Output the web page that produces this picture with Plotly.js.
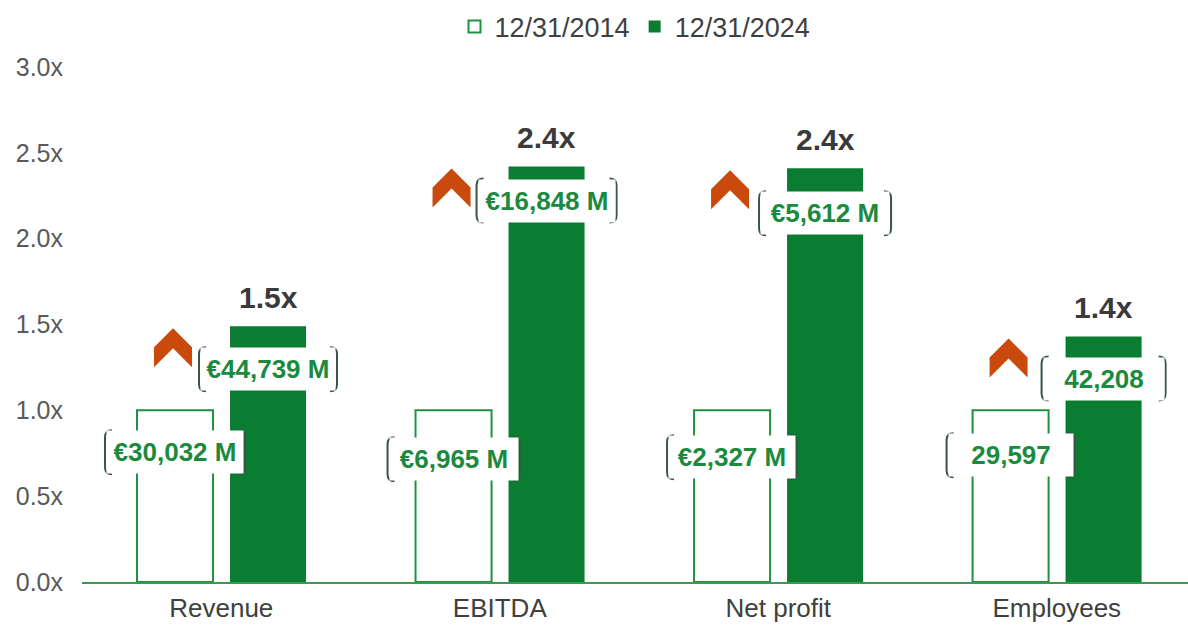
<!DOCTYPE html>
<html>
<head>
<meta charset="utf-8">
<script src="https://cdn.plot.ly/plotly-3.0.1.min.js"></script>
<style>html,body{margin:0;padding:0;background:#fff;}#chart{width:1188px;height:628px;}</style>
</head>
<body>
<div id="chart"></div>
<script>
// ---- data ----
const categories = ['Revenue', 'EBITDA', 'Net profit', 'Employees'];
const base2014 = [1.0, 1.0, 1.0, 1.0];
const growth2024 = [1.49, 2.42, 2.41, 1.43];
const multiplierLabels = ['1.5x', '2.4x', '2.4x', '1.4x'];
const valueLabels2014 = ['€30,032 M', '€6,965 M', '€2,327 M', '29,597'];
const valueLabels2024 = ['€44,739 M', '€16,848 M', '€5,612 M', '42,208'];
const seriesNames = ['12/31/2014', '12/31/2024'];
const yTickVals = [0, 0.5, 1.0, 1.5, 2.0, 2.5, 3.0];
const yTickText = ['0.0x', '0.5x', '1.0x', '1.5x', '2.0x', '2.5x', '3.0x'];

// ---- style ----
const GREEN = '#0a7d33';
const OUTLINE = '#1f9140';
const LABEL_GREEN = '#1b8a3e';
const CHEVRON = '#c94a0c';
const BRACKET = '#3a5444';
const FONT = 'Liberation Sans, Arial, sans-serif';
const BAR_W = 0.273;
const OFF_2014 = -0.3025;
const OFF_2024 = 0.0314;
const labelShift2014 = [-42, -49, -47, -45];
const labelShift2024 = [-43, -34, -45, -42];
const boxHalf2014 = [70, 66, 65, 64];
const boxHalf2024 = [69, 70, 66, 62];
const BOX_H = 44;

const xIdx = categories.map((c, i) => i);

const traces = [
  {
    type: 'bar', name: seriesNames[0], x: xIdx, y: base2014,
    width: BAR_W, offset: OFF_2014,
    marker: { color: '#ffffff', line: { color: OUTLINE, width: 2 } },
    hoverinfo: 'skip'
  },
  {
    type: 'bar', name: seriesNames[1], x: xIdx, y: growth2024,
    width: BAR_W, offset: OFF_2024,
    marker: { color: GREEN, line: { width: 0 } },
    hoverinfo: 'skip'
  }
];

const annotations = [];
const shapes = [];

function bracketShapes(xc, yv, shiftPx, half) {
  const h = BOX_H / 2;
  const r = 7;
  const top = shiftPx + h, bot = shiftPx - h;
  const left = `M ${-half + r},${top} Q ${-half},${top} ${-half},${top - r} L ${-half},${bot + r} Q ${-half},${bot} ${-half + r},${bot}`;
  const right = `M ${half - r},${top} Q ${half},${top} ${half},${top - r} L ${half},${bot + r} Q ${half},${bot} ${half - r},${bot}`;
  [left, right].forEach(p => shapes.push({
    type: 'path', xref: 'x', yref: 'y', xsizemode: 'pixel', ysizemode: 'pixel',
    xanchor: xc, yanchor: yv, path: p,
    line: { color: BRACKET, width: 2 }, layer: 'above'
  }));
}

function valueLabel(text, xc, yv, shiftPx, half) {
  annotations.push({
    x: xc, y: yv, xref: 'x', yref: 'y', text: text, showarrow: false,
    yshift: shiftPx, xanchor: 'center', yanchor: 'middle',
    width: 2 * half - 4, height: BOX_H - 2, bgcolor: '#ffffff', borderpad: 0,
    font: { family: FONT, size: 26, color: LABEL_GREEN, weight: 'bold' }
  });
  bracketShapes(xc, yv, shiftPx, half);
}

categories.forEach((cat, i) => {
  const x14 = i + OFF_2014 + BAR_W / 2;
  const x24 = i + OFF_2024 + BAR_W / 2;
  valueLabel(valueLabels2014[i], x14, base2014[i], labelShift2014[i], boxHalf2014[i]);
  valueLabel(valueLabels2024[i], x24, growth2024[i], labelShift2024[i], boxHalf2024[i]);
  annotations.push({
    x: x24, y: growth2024[i], xref: 'x', yref: 'y', text: multiplierLabels[i],
    showarrow: false, yshift: 29, xanchor: 'center', yanchor: 'middle',
    font: { family: FONT, size: 30, color: '#3a3a3a', weight: 'bold' }
  });
  // upward chevron left of the 2024 label
  shapes.push({
    type: 'path', xref: 'x', yref: 'y', xsizemode: 'pixel', ysizemode: 'pixel',
    xanchor: x24, yanchor: growth2024[i],
    path: 'M -95,-2 L -76,-21 L -76,-41 L -95,-22 L -114,-41 L -114,-21 Z',
    fillcolor: CHEVRON, line: { width: 0 }, layer: 'above'
  });
});

const layout = {
  width: 1188, height: 628,
  margin: { l: 82, r: 0, t: 67, b: 46, pad: 0 },
  paper_bgcolor: '#ffffff', plot_bgcolor: '#ffffff',
  font: { family: FONT, color: '#404040' },
  showlegend: true,
  legend: {
    orientation: 'h', x: 0.5, xanchor: 'center', y: 1.03, yanchor: 'bottom',
    font: { family: FONT, size: 27, color: '#404040' },
    itemsizing: 'constant', traceorder: 'normal', itemwidth: 30
  },
  xaxis: {
    type: 'linear', range: [-0.5, 3.471], tickvals: xIdx, ticktext: categories,
    showgrid: false, zeroline: false, showline: true, linecolor: '#3a9a4e', linewidth: 2,
    ticks: '', tickfont: { family: FONT, size: 26, color: '#404040' },
    ticklabelstandoff: 2, fixedrange: true
  },
  yaxis: {
    range: [0, 3], tickvals: yTickVals, ticktext: yTickText,
    showgrid: false, zeroline: false, showline: false, ticks: '',
    tickfont: { family: FONT, size: 25, color: '#595959' },
    ticklabelstandoff: 18, fixedrange: true
  },
  annotations: annotations,
  shapes: shapes
};

Plotly.newPlot('chart', traces, layout, { displayModeBar: false, staticPlot: true });
</script>
</body>
</html>
